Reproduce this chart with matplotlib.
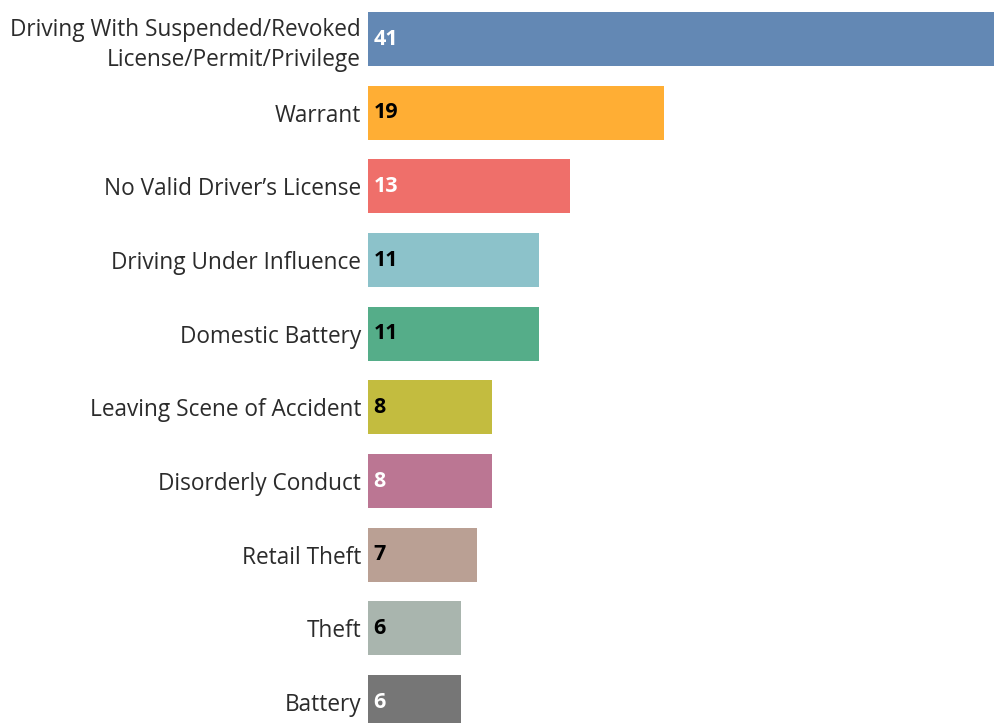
import matplotlib.pyplot as plt

categories = [
    "Driving With Suspended/Revoked\nLicense/Permit/Privilege",
    "Warrant",
    "No Valid Driver\u2019s License",
    "Driving Under Influence",
    "Domestic Battery",
    "Leaving Scene of Accident",
    "Disorderly Conduct",
    "Retail Theft",
    "Theft",
    "Battery",
]
counts = [41, 19, 13, 11, 11, 8, 8, 7, 6, 6]
colors = ["#6388B4", "#FFAE34", "#EF6F6A", "#8CC2CA", "#55AD89",
          "#C3BC3F", "#BB7693", "#BAA094", "#A9B5AE", "#767676"]
label_colors = ["white", "black", "white", "black", "black",
                "black", "white", "black", "black", "white"]

W, H = 995, 723
fig = plt.figure(figsize=(W / 100, H / 100), dpi=100)
left = 368 / W
ax = fig.add_axes([left, 0, 1 - left, 1])

ypos = list(range(len(categories)))
ax.barh(ypos, counts, height=0.735, color=colors)

for y, v, c in zip(ypos, counts, label_colors):
    ax.annotate(str(v), xy=(0, y), xytext=(4, 0), textcoords="offset points",
                va="center", ha="left", color=c, fontsize=15.5, fontweight="bold",
                family="Open Sans")

ax.set_yticks(ypos)
ax.set_yticklabels(categories, fontsize=16.3, color="#2b2b2b", family="Open Sans",
                   linespacing=1.34)
ax.tick_params(axis="y", length=0, pad=5)
ax.set_xticks([])
ax.set_xlim(0, 40.3)
ax.set_ylim(9.285, -0.53)
for s in ax.spines.values():
    s.set_visible(False)

fig.savefig("out.png", dpi=100)
